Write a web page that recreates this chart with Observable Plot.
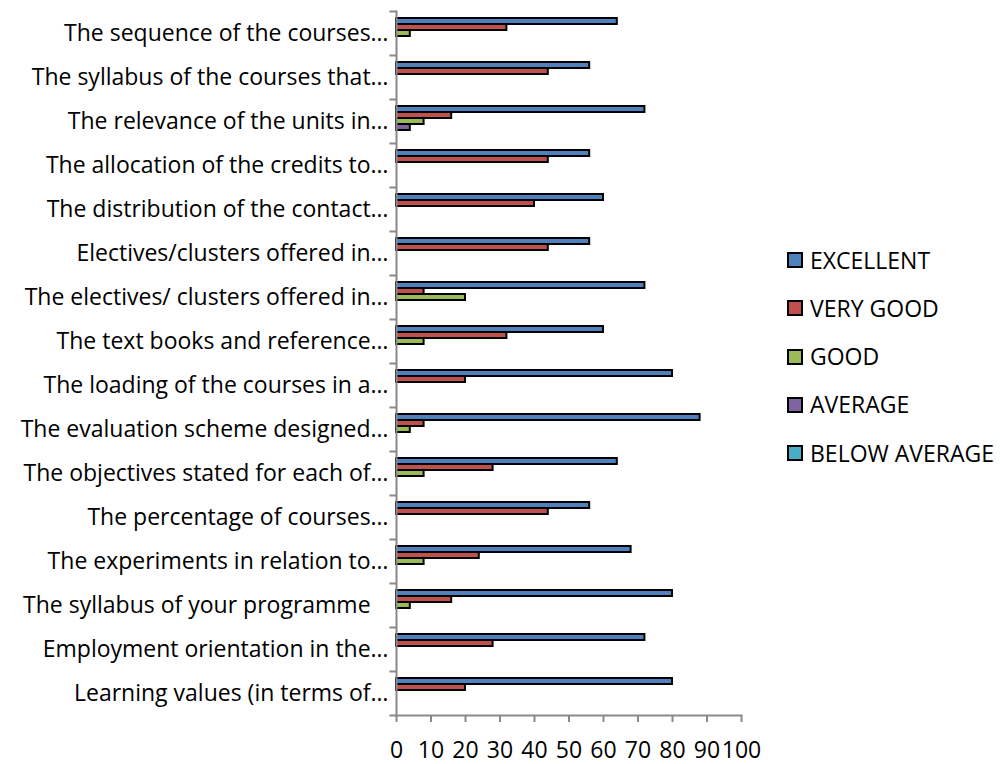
<!DOCTYPE html>
<html>
<head>
<meta charset="utf-8">
<script src="https://cdn.jsdelivr.net/npm/d3@7"></script>
<script src="https://cdn.jsdelivr.net/npm/@observablehq/plot@0.6"></script>
<style>
html, body { margin: 0; padding: 0; background: #fff; }
#wrap { position: relative; width: 1001px; height: 764px; overflow: hidden; }
#chart svg { display: block; }
#legend { position: absolute; left: 788px; top: 236px; }
.lg-swatches { font-family: "Open Sans", sans-serif; font-size: 23px; color: #000; margin: 0; }
.lg-swatch { display: flex; align-items: center; height: 48.25px; padding: 0; }
.lg-swatch > svg { margin-right: 8px; overflow: visible; }
.lg-swatch rect { stroke: #000; stroke-width: 2; }
.lg-swatch-label { line-height: 1; overflow: visible; }
</style>
</head>
<body>
<div id="wrap"><div id="chart"></div><div id="legend"></div></div>
<script>
const categories = [
  "The sequence of the courses…",
  "The syllabus of the courses that…",
  "The relevance of the units in…",
  "The allocation of the credits to…",
  "The distribution of the contact…",
  "Electives/clusters offered in…",
  "The electives/ clusters offered in…",
  "The text books and reference…",
  "The loading of the courses in a…",
  "The evaluation scheme designed…",
  "The objectives stated for each of…",
  "The percentage of courses…",
  "The experiments in relation to…",
  "The syllabus of your programme\u00a0\u00a0\u00a0",
  "Employment orientation in the…",
  "Learning values (in terms of…"
];
const series = ["EXCELLENT", "VERY GOOD", "GOOD", "AVERAGE", "BELOW AVERAGE"];
const excellent    = [64, 56, 72, 56, 60, 56, 72, 60, 80, 88, 64, 56, 68, 80, 72, 80];
const veryGood     = [32, 44, 16, 44, 40, 44,  8, 32, 20,  8, 28, 44, 24, 16, 28, 20];
const good         = [ 4,  0,  8,  0,  0,  0, 20,  8,  0,  4,  8,  0,  8,  4,  0,  0];
const average      = [ 0,  0,  4,  0,  0,  0,  0,  0,  0,  0,  0,  0,  0,  0,  0,  0];
const belowAverage = [ 0,  0,  0,  0,  0,  0,  0,  0,  0,  0,  0,  0,  0,  0,  0,  0];
const colors = ["#4F81BD", "#C0504D", "#9BBB59", "#8064A2", "#4BACC6"];
const xTicks = [0, 10, 20, 30, 40, 50, 60, 70, 80, 90, 100];

const valuesBySeries = [excellent, veryGood, good, average, belowAverage];
const table = [];
categories.forEach((c, i) => series.forEach((s, j) => {
  const v = valuesBySeries[j][i];
  if (v > 0) table.push({category: c, series: s, value: v});
}));

const axisGray = "#898989";
const tickSymbol = {draw(ctx) { ctx.moveTo(-7, 0); ctx.lineTo(0, 0); }};

const plot = Plot.plot({
  width: 1001,
  height: 764,
  marginLeft: 396,
  marginRight: 260,
  marginTop: 7,
  marginBottom: 45,
  style: {fontFamily: '"Open Sans", sans-serif', fontSize: "23px", color: "#000", background: "#fff"},
  x: {domain: [0, 100], label: null},
  y: {domain: series, paddingInner: 0, paddingOuter: 0.77, axis: null},
  fy: {domain: categories, padding: 0, label: null},
  color: {domain: series, range: colors},
  marks: [
    Plot.barX(table, {x: "value", y: "series", fy: "category", fill: "series", stroke: "#000", strokeWidth: 2}),
    Plot.axisFy({anchor: "left", tickSize: 0, tickPadding: 8, fontSize: 23, label: null}),
    Plot.axisX({ticks: xTicks, tickSize: 7, tickPadding: 19, fontSize: 23, stroke: axisGray, strokeWidth: 2, label: null}),
    Plot.frame({anchor: "left", facet: "super", stroke: axisGray, strokeWidth: 2}),
    Plot.frame({anchor: "bottom", facet: "super", stroke: axisGray, strokeWidth: 2}),
    Plot.dot([0], {frameAnchor: "top-left", symbol: tickSymbol, stroke: axisGray, strokeWidth: 2}),
    Plot.dot([0], {frameAnchor: "bottom-left", facet: "super", symbol: tickSymbol, stroke: axisGray, strokeWidth: 2})
  ]
});
document.getElementById("chart").appendChild(plot);

const legend = plot.legend("color", {legend: "swatches", columns: 1, swatchSize: 14, className: "lg"});
document.getElementById("legend").appendChild(legend);
</script>
</body>
</html>
